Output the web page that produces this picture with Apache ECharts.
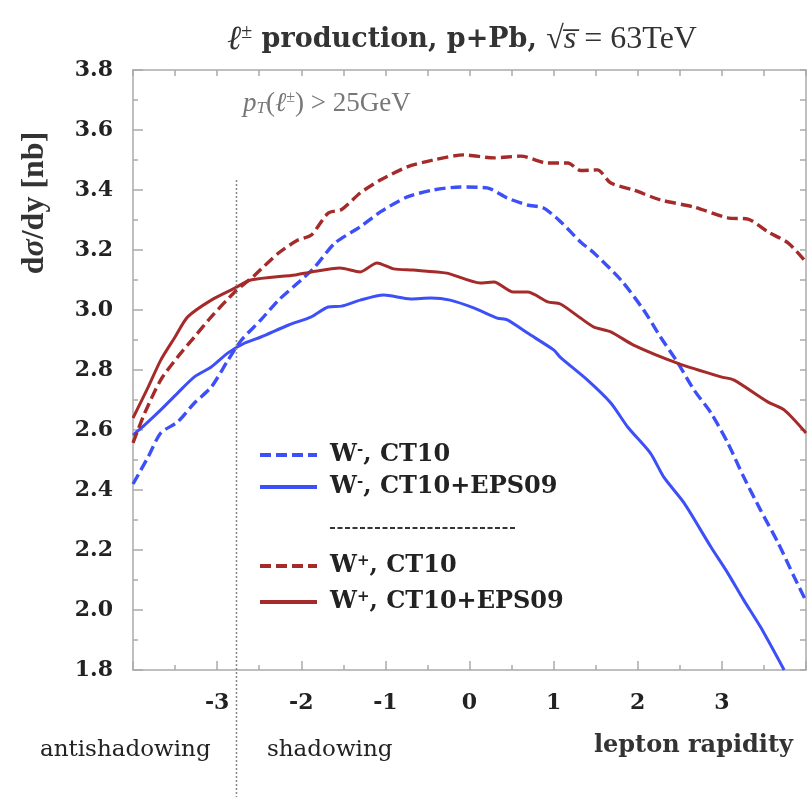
<!DOCTYPE html>
<html>
<head>
<meta charset="utf-8">
<script src="https://cdn.jsdelivr.net/npm/echarts@6/dist/echarts.min.js"></script>
<style>
  html, body { margin: 0; padding: 0; background: #fff; }
  #chart { width: 811px; height: 797px; }
</style>
</head>
<body>
<div id="chart"></div>
<script>
// Lepton rapidity distributions, p+Pb at sqrt(s) = 63 TeV, pT > 25 GeV
// Each array holds [rapidity, dsigma/dy in nb]

const wMinusCT10 = [
  [-4.0, 2.42], [-3.82, 2.51], [-3.67, 2.59], [-3.47, 2.627], [-3.27, 2.69],
  [-3.07, 2.743], [-2.87, 2.833], [-2.71, 2.90], [-2.48, 2.967], [-2.27, 3.033],
  [-2.0, 3.10], [-1.84, 3.143], [-1.6, 3.223], [-1.3, 3.277], [-1.06, 3.327],
  [-0.74, 3.377], [-0.43, 3.40], [-0.11, 3.41], [0.21, 3.407], [0.45, 3.373],
  [0.69, 3.35], [0.88, 3.34], [1.08, 3.295], [1.32, 3.227], [1.48, 3.19],
  [1.8, 3.10], [2.07, 3.0], [2.27, 2.91], [2.47, 2.827], [2.67, 2.733],
  [2.87, 2.657], [3.07, 2.557], [3.26, 2.443], [3.46, 2.333], [3.67, 2.223],
  [3.86, 2.11], [4.0, 2.03]
];

const wMinusEPS09 = [
  [-4.0, 2.583], [-3.86, 2.617], [-3.67, 2.667], [-3.47, 2.723], [-3.27, 2.777],
  [-3.07, 2.81], [-2.87, 2.857], [-2.67, 2.89], [-2.48, 2.91], [-2.15, 2.95],
  [-1.88, 2.977], [-1.68, 3.01], [-1.52, 3.013], [-1.3, 3.033], [-1.02, 3.05],
  [-0.7, 3.037], [-0.46, 3.04], [-0.23, 3.033], [0.05, 3.007], [0.33, 2.973],
  [0.45, 2.967], [0.69, 2.923], [1.0, 2.867], [1.08, 2.842], [1.4, 2.767],
  [1.68, 2.69], [1.88, 2.61], [2.15, 2.523], [2.31, 2.443], [2.55, 2.357],
  [2.87, 2.21], [3.07, 2.123], [3.26, 2.033], [3.46, 1.943], [3.74, 1.80]
];

const wPlusCT10 = [
  [-4.0, 2.557], [-3.86, 2.657], [-3.67, 2.767], [-3.47, 2.843], [-3.27, 2.91],
  [-3.07, 2.977], [-2.79, 3.06], [-2.55, 3.117], [-2.27, 3.19], [-2.04, 3.233],
  [-1.88, 3.25], [-1.68, 3.323], [-1.52, 3.335], [-1.3, 3.39], [-1.06, 3.433],
  [-0.74, 3.477], [-0.43, 3.50], [-0.07, 3.517], [0.29, 3.507], [0.61, 3.513],
  [0.93, 3.49], [1.17, 3.49], [1.32, 3.465], [1.52, 3.467], [1.68, 3.423],
  [1.95, 3.40], [2.27, 3.367], [2.67, 3.343], [3.07, 3.307], [3.31, 3.303],
  [3.55, 3.26], [3.79, 3.223], [4.0, 3.16]
];

const wPlusEPS09 = [
  [-4.0, 2.64], [-3.82, 2.743], [-3.67, 2.833], [-3.5, 2.91], [-3.35, 2.977],
  [-3.07, 3.033], [-2.79, 3.073], [-2.6, 3.10], [-2.07, 3.117], [-1.88, 3.127],
  [-1.54, 3.14], [-1.3, 3.127], [-1.1, 3.157], [-0.9, 3.137], [-0.67, 3.133],
  [-0.27, 3.123], [0.13, 3.09], [0.29, 3.093], [0.52, 3.06], [0.69, 3.06],
  [0.93, 3.027], [1.08, 3.02], [1.32, 2.973], [1.48, 2.943], [1.68, 2.927],
  [1.95, 2.883], [2.47, 2.823], [2.99, 2.777], [3.14, 2.767], [3.55, 2.693],
  [3.74, 2.667], [4.0, 2.59]
];

const seriesNames = ['W-, CT10', 'W-, CT10+EPS09', 'W+, CT10', 'W+, CT10+EPS09'];
const xRange = [-4, 4];
const yRange = [1.8, 3.8];
// rapidity separating the antishadowing and shadowing regions
const shadowingEdge = -2.77;
const shadowingLineTop = 3.433;

const BLUE = '#3d4ff7';
const RED = '#a52a2a';
const AXIS = '#aaaaaa';
const SERIF = '"DejaVu Serif", "Liberation Serif", serif';
const MATH = '"Liberation Serif", "DejaVu Serif", serif';

const chart = echarts.init(document.getElementById('chart'), null, { renderer: 'canvas' });

function lineSeries(name, data, color, dashed) {
  return {
    name: name,
    type: 'line',
    data: data,
    symbol: 'none',
    smooth: 0.25,
    clip: true,
    lineStyle: {
      color: color,
      width: dashed ? 3.4 : 3,
      type: dashed ? [11, 5] : 'solid'
    },
    itemStyle: { color: color },
    z: 3
  };
}

const legendRich = {
  b: { fontFamily: SERIF, fontWeight: 'bold', fontSize: 24, color: '#222' },
  s: { fontFamily: SERIF, fontWeight: 'bold', fontSize: 15, color: '#222', verticalAlign: 'top' }
};
function legendFormatter(name) {
  const sign = name.charAt(1);
  const rest = name.slice(2);
  return '{b|W}{s|' + (sign === '-' ? '-' : '+') + '}{b|' + rest + '}';
}
function legendBlock(names, top, gap) {
  return {
    data: names,
    orient: 'vertical', left: 258, top: top, itemGap: gap,
    itemWidth: 57, itemHeight: 14, padding: 0,
    formatter: legendFormatter,
    itemStyle: { opacity: 0, borderWidth: 0 },
    lineStyle: { width: 4 },
    textStyle: { rich: legendRich, padding: [0, 0, 0, 8] },
    selectedMode: false
  };
}

const option = {
  animation: false,
  backgroundColor: '#fff',
  grid: { left: 133, right: 5, top: 70, bottom: 127, containLabel: false },
  xAxis: [
    {
      type: 'value', min: xRange[0], max: xRange[1], interval: 1, position: 'bottom',
      axisLine: { show: true, onZero: false, lineStyle: { color: AXIS, width: 1.5 } },
      axisTick: { show: true, inside: true, length: 9, lineStyle: { color: AXIS, width: 1.5 } },
      minorTick: { show: true, splitNumber: 2, length: 5, lineStyle: { color: AXIS, width: 1.5 } },
      splitLine: { show: false },
      axisLabel: {
        margin: 22,
        fontFamily: SERIF, fontWeight: 'bold', fontSize: 22, color: '#222',
        formatter: v => (v === xRange[0] || v === xRange[1]) ? '' : String(v)
      }
    },
    {
      type: 'value', min: xRange[0], max: xRange[1], interval: 0.5, position: 'top',
      axisLine: { show: true, onZero: false, lineStyle: { color: AXIS, width: 1.5 } },
      axisTick: { show: true, inside: true, length: 6, lineStyle: { color: AXIS, width: 1.5 } },
      splitLine: { show: false },
      axisLabel: { show: false }
    }
  ],
  yAxis: [
    {
      type: 'value', min: yRange[0], max: yRange[1], interval: 0.2, position: 'left',
      axisLine: { show: true, onZero: false, lineStyle: { color: AXIS, width: 1.5 } },
      axisTick: { show: true, inside: true, length: 10, lineStyle: { color: AXIS, width: 1.5 } },
      minorTick: { show: true, splitNumber: 2, length: 5, lineStyle: { color: AXIS, width: 1.5 } },
      splitLine: { show: false },
      axisLabel: {
        margin: 20,
        fontFamily: SERIF, fontWeight: 'bold', fontSize: 22, color: '#222',
        formatter: v => v.toFixed(1)
      }
    },
    {
      type: 'value', min: yRange[0], max: yRange[1], interval: 0.1, position: 'right',
      axisLine: { show: true, onZero: false, lineStyle: { color: AXIS, width: 1.5 } },
      axisTick: { show: true, inside: true, length: 6, lineStyle: { color: AXIS, width: 1.5 } },
      splitLine: { show: false },
      axisLabel: { show: false }
    }
  ],
  legend: [
    legendBlock(seriesNames.slice(0, 2), 443, 8),
    legendBlock(seriesNames.slice(2, 4), 554, 12)
  ],
  series: [
    lineSeries(seriesNames[0], wMinusCT10, BLUE, true),
    lineSeries(seriesNames[1], wMinusEPS09, BLUE, false),
    lineSeries(seriesNames[2], wPlusCT10, RED, true),
    lineSeries(seriesNames[3], wPlusEPS09, RED, false)
  ]
};

chart.setOption(option);

// Overlay texts and the shadowing boundary, placed through the axes' own scales
const edgeX = chart.convertToPixel({ xAxisIndex: 0 }, shadowingEdge);
const edgeTop = chart.convertToPixel({ yAxisIndex: 0 }, shadowingLineTop);
const H = chart.getHeight();

chart.setOption({
  graphic: [
    {
      type: 'line', z: 10,
      shape: { x1: edgeX, y1: edgeTop, x2: edgeX, y2: H },
      style: { stroke: '#888', lineWidth: 1.5, lineDash: [2, 2] }
    },
    {
      type: 'text', x: 462, y: 40, z: 10,
      style: {
        text: '{m|ℓ}{sup|±}{b| production, p+Pb, }{r|√}{mi|s̅}{r| = 63TeV}',
        align: 'center', verticalAlign: 'middle',
        rich: {
          m: { fontFamily: MATH, fontStyle: 'italic', fontSize: 34, fill: '#333' },
          sup: { fontFamily: MATH, fontSize: 20, fill: '#333', verticalAlign: 'top' },
          b: { fontFamily: SERIF, fontWeight: 'bold', fontSize: 27, fill: '#333' },
          r: { fontFamily: MATH, fontSize: 32, fill: '#333' },
          mi: { fontFamily: MATH, fontStyle: 'italic', fontSize: 32, fill: '#333' }
        }
      }
    },
    {
      type: 'text', left: 243, top: 90, z: 10,
      style: {
        text: '{i|p}{sub|T}{r|(}{i|ℓ}{sup|±}{r|) > 25GeV}',
        rich: {
          i: { fontFamily: MATH, fontStyle: 'italic', fontSize: 27, fill: '#777' },
          r: { fontFamily: MATH, fontSize: 27, fill: '#777' },
          sub: { fontFamily: MATH, fontStyle: 'italic', fontSize: 17, fill: '#777', verticalAlign: 'bottom' },
          sup: { fontFamily: MATH, fontSize: 16, fill: '#777', verticalAlign: 'top' }
        }
      }
    },
    {
      type: 'text', z: 10,
      x: 35, y: 203, rotation: Math.PI / 2,
      style: {
        text: '{b|d}{i|σ}{b|/dy [nb]}',
        align: 'center', verticalAlign: 'middle',
        rich: {
          b: { fontFamily: MATH, fontWeight: 'bold', fontSize: 32, fill: '#333' },
          i: { fontFamily: MATH, fontStyle: 'italic', fontWeight: 'bold', fontSize: 32, fill: '#333' }
        }
      }
    },
    {
      type: 'line', z: 10,
      shape: { x1: 330, y1: 528, x2: 517, y2: 528 },
      style: { stroke: '#333', lineWidth: 2, lineDash: [5, 2.5] }
    },
    {
      type: 'text', left: 40, top: 739, z: 10,
      style: { text: 'antishadowing', font: '23px ' + SERIF, fill: '#222' }
    },
    {
      type: 'text', left: 267, top: 739, z: 10,
      style: { text: 'shadowing', font: '23px ' + SERIF, fill: '#222' }
    },
    {
      type: 'text', right: 18, top: 734, z: 10,
      style: { text: 'lepton rapidity', font: 'bold 24px ' + SERIF, fill: '#333' }
    }
  ]
});
</script>
</body>
</html>
